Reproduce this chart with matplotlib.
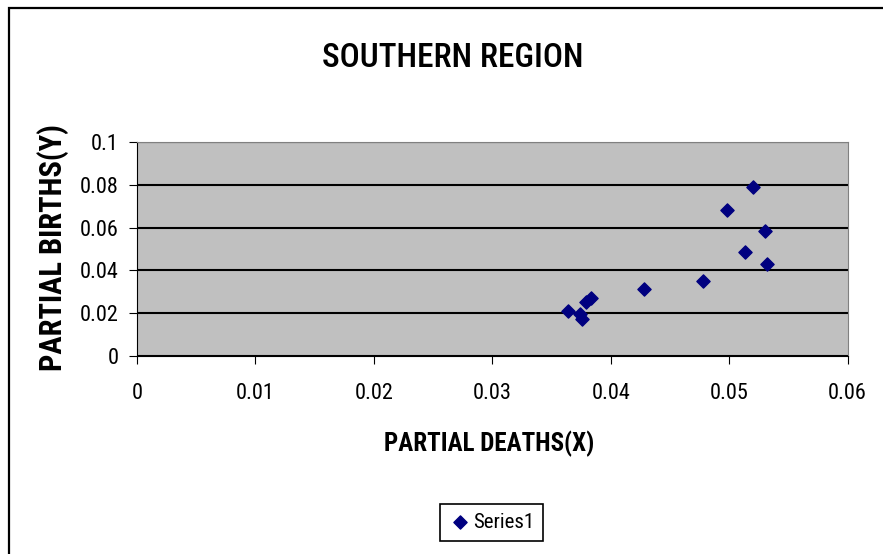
import matplotlib.pyplot as plt
from matplotlib.patches import Rectangle

deaths_x = [0.0520, 0.0498, 0.0530, 0.0513, 0.0532, 0.0478, 0.0428,
            0.0364, 0.0374, 0.0376, 0.0379, 0.0383]
births_y = [0.0791, 0.0682, 0.0584, 0.0487, 0.0428, 0.0350, 0.0312,
            0.0213, 0.0196, 0.0173, 0.0251, 0.0272]
x_ticks = [0, 0.01, 0.02, 0.03, 0.04, 0.05, 0.06]
x_labels = ['0', '0.01', '0.02', '0.03', '0.04', '0.05', '0.06']
y_ticks = [0, 0.02, 0.04, 0.06, 0.08, 0.1]
y_labels = ['0', '0.02', '0.04', '0.06', '0.08', '0.1']

plt.rcParams['font.family'] = ['Roboto Condensed', 'DejaVu Sans']

fig = plt.figure(figsize=(8.83, 5.54), dpi=100)
# outer chart border (only left and top edges are visible in the image)
fig.patches.append(Rectangle((0.0102, -0.01), 1.1, 0.9956, transform=fig.transFigure,
                             fill=False, edgecolor='black', linewidth=1.6))

ax = fig.add_axes([0.155, 0.357, 0.805, 0.387])
ax.set_facecolor('#C0C0C0')
ax.scatter(deaths_x, births_y, marker='D', s=45, color='#000080', label='Series1', zorder=3)

ax.set_xlim(0, 0.06)
ax.set_ylim(0, 0.1)
ax.set_xticks(x_ticks)
ax.set_xticklabels(x_labels, fontsize=16)
ax.set_yticks(y_ticks)
ax.set_yticklabels(y_labels, fontsize=16)
ax.yaxis.grid(True, color='black', linewidth=1.5)
ax.set_axisbelow(True)
ax.tick_params(axis='x', direction='out', length=6, pad=13)
ax.tick_params(axis='y', direction='out', length=6, pad=7)
for side in ['top', 'right']:
    ax.spines[side].set_color('#808080')
for side in ['left', 'bottom']:
    ax.spines[side].set_color('black')

ax.set_xlabel('PARTIAL DEATHS(X)', fontsize=18, fontweight='bold', va='center')
ax.xaxis.set_label_coords(0.496, -0.407)
ax.set_ylabel('PARTIAL BIRTHS(Y)', fontsize=22, fontweight='bold', va='center')
ax.yaxis.set_label_coords(-0.118, 0.505)
fig.text(0.513, 0.895, 'SOUTHERN REGION', ha='center', va='center', fontsize=24,
         fontweight='medium')

leg = fig.legend(loc='center', bbox_to_anchor=(0.557, 0.057), fontsize=15,
                 handletextpad=0.1, handlelength=1, fancybox=False,
                 edgecolor='black', framealpha=1, borderpad=0.45)
leg.get_frame().set_linewidth(1.2)

fig.savefig('out.png', dpi=100)
